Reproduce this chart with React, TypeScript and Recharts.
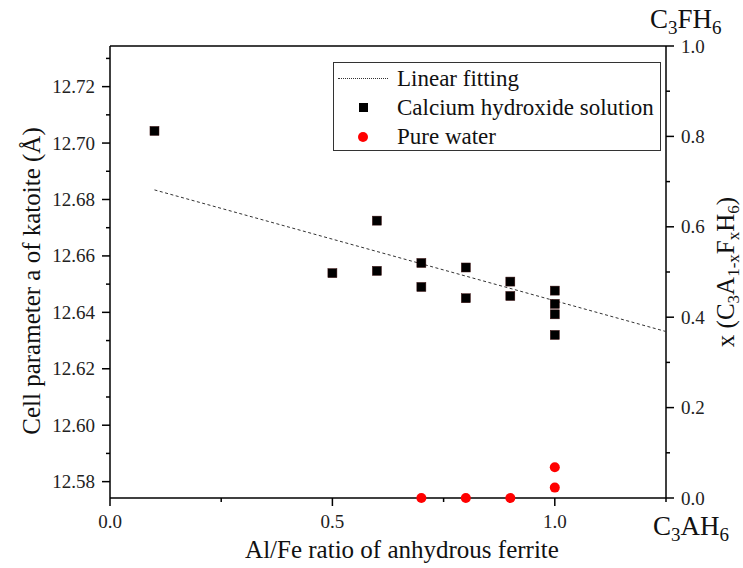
import { ComposedChart, Legend, Scatter, XAxis, YAxis } from "recharts";

const SERIF = "'Liberation Serif', 'Times New Roman', serif";

// Al/Fe ratio vs cell parameter (Ca(OH)2 solution)
const ratioCa = [0.1, 0.5, 0.6, 0.6, 0.7, 0.7, 0.8, 0.8, 0.9, 0.9, 1.0, 1.0, 1.0, 1.0];
const cellCa = [12.7043, 12.6539, 12.6725, 12.6547, 12.6575, 12.649, 12.6559, 12.645, 12.6509, 12.6458, 12.6477, 12.643, 12.6393, 12.632];

// Al/Fe ratio vs x (pure water), right axis
const ratioWater = [0.7, 0.8, 0.9, 1.0, 1.0];
const xWater = [0, 0, 0, 0.068, 0.023];

// linear fit end points
const fitRatio = [0.1, 1.25];
const fitCell = [12.6834, 12.6332];

const xTicks = [0, 0.25, 0.5, 0.75, 1.0, 1.25];
const xLabeled = [0, 0.5, 1.0];
const leftTicks = [12.58, 12.59, 12.6, 12.61, 12.62, 12.63, 12.64, 12.65, 12.66, 12.67, 12.68, 12.69, 12.7, 12.71, 12.72, 12.73];
const leftLabeled = [12.58, 12.6, 12.62, 12.64, 12.66, 12.68, 12.7, 12.72];
const rightTicks = [0, 0.1, 0.2, 0.3, 0.4, 0.5, 0.6, 0.7, 0.8, 0.9, 1.0];
const rightLabeled = [0, 0.2, 0.4, 0.6, 0.8, 1.0];

const legendOrder = ["Linear fitting", "Calcium hydroxide solution", "Pure water"];

const caData = ratioCa.map((r, i) => ({ r, v: cellCa[i] }));
const waterData = ratioWater.map((r, i) => ({ r, v: xWater[i] }));
const fitData = fitRatio.map((r, i) => ({ r, v: fitCell[i] }));

const AXIS = { stroke: "#000", strokeWidth: 1.5 };
const TICK_FS = 19;

function Species({ x, y, mid }: { x: number; y: number; mid: string }) {
  return (
    <text x={x} y={y} fontSize={27} fontFamily={SERIF} fill="#111">
      <tspan>C</tspan>
      <tspan dy={6} fontSize={19}>3</tspan>
      <tspan dy={-6}>{mid}</tspan>
      <tspan dy={6} fontSize={19}>6</tspan>
    </text>
  );
}

function BottomTick({ x, y, payload }: any) {
  const v = payload.value;
  const major = xLabeled.includes(v);
  return (
    <g>
      <line x1={x} x2={x} y1={y} y2={y + (major ? 8 : 4)} {...AXIS} />
      {major && (
        <text x={x} y={y + 30} textAnchor="middle" fontSize={TICK_FS} fontFamily={SERIF} fill="#222">
          {v.toFixed(1)}
        </text>
      )}
      {v === 1.25 && <Species x={x - 13} y={y + 37} mid="AH" />}
    </g>
  );
}

function TopTick({ x, y, payload }: any) {
  const major = xLabeled.includes(payload.value);
  return <line x1={x} x2={x} y1={y} y2={y + (major ? 8 : 4)} {...AXIS} />;
}

function LeftTick({ x, y, payload }: any) {
  const v = payload.value;
  const major = leftLabeled.includes(v);
  return (
    <g>
      <line x1={x - (major ? 8 : 4)} x2={x} y1={y} y2={y} {...AXIS} />
      {major && (
        <text x={x - 15} y={y + 6.5} textAnchor="end" fontSize={TICK_FS} fontFamily={SERIF} fill="#222">
          {v.toFixed(2)}
        </text>
      )}
    </g>
  );
}

function RightTick({ x, y, payload }: any) {
  const v = payload.value;
  const major = rightLabeled.includes(v);
  return (
    <g>
      <line x1={x} x2={x + (major ? 8 : 4)} y1={y} y2={y} {...AXIS} />
      {major && (
        <text x={x + 15} y={y + 6.5} textAnchor="start" fontSize={TICK_FS} fontFamily={SERIF} fill="#222">
          {v.toFixed(1)}
        </text>
      )}
      {v === 1.0 && <Species x={x - 16} y={y - 18} mid="FH" />}
    </g>
  );
}

function BottomTitle({ viewBox }: any) {
  const cx = viewBox.x + viewBox.width / 2 + 14;
  return (
    <text x={cx} y={viewBox.y + 60} textAnchor="middle" fontSize={25} fontFamily={SERIF} fill="#111">
      Al/Fe ratio of anhydrous ferrite
    </text>
  );
}

function LeftTitle({ viewBox }: any) {
  const bx = viewBox.x - 10;
  const cy = viewBox.y + viewBox.height / 2 + 9;
  return (
    <text x={bx} y={cy} transform={`rotate(-90, ${bx}, ${cy})`} textAnchor="middle" fontSize={25} fontFamily={SERIF} fill="#111">
      Cell parameter a of katoite (Å)
    </text>
  );
}

function RightTitle({ viewBox }: any) {
  const bx = viewBox.x + 68;
  const cy = viewBox.y + viewBox.height / 2;
  return (
    <text x={bx} y={cy} transform={`rotate(-90, ${bx}, ${cy})`} textAnchor="middle" fontSize={25} fontFamily={SERIF} fill="#111">
      <tspan>x (C</tspan>
      <tspan dy={5} fontSize={17}>3</tspan>
      <tspan dy={-5}>A</tspan>
      <tspan dy={5} fontSize={17}>1-x</tspan>
      <tspan dy={-5}>F</tspan>
      <tspan dy={5} fontSize={17}>x</tspan>
      <tspan dy={-5}>H</tspan>
      <tspan dy={5} fontSize={17}>6</tspan>
      <tspan dy={-5}>)</tspan>
    </text>
  );
}

const Square = ({ cx, cy }: any) => <rect x={cx - 4.5} y={cy - 4.5} width={9} height={9} fill="#000" stroke="#3a0d0d" strokeWidth={0.5} />;
const Dot = ({ cx, cy }: any) => <circle cx={cx} cy={cy} r={5} fill="#ff0000" />;
const NoMark = () => <g />;

function LegendBox({ payload }: any) {
  const items = [...(payload ?? [])].sort((a: any, b: any) => legendOrder.indexOf(a.value) - legendOrder.indexOf(b.value));
  return (
    <div
      style={{
        border: "1px solid #333",
        boxSizing: "border-box",
        width: 328,
        height: 89,
        paddingTop: 1,
        fontFamily: SERIF,
        fontSize: 23,
        color: "#111",
        background: "#fff",
      }}
    >
      {items.map((e: any) => (
        <div key={e.value} style={{ display: "flex", alignItems: "center", height: 29, lineHeight: "29px" }}>
          <div style={{ width: 58, display: "flex", justifyContent: "center", alignItems: "center" }}>
            {e.type === "plainline" && <div style={{ width: 50, borderTop: "1px dotted #333" }} />}
            {e.type === "square" && <div style={{ width: 9, height: 9, background: "#000" }} />}
            {e.type === "circle" && <div style={{ width: 10, height: 10, borderRadius: 5, background: "#ff0000" }} />}
          </div>
          <span style={{ marginLeft: 5, whiteSpace: "nowrap" }}>{e.value}</span>
        </div>
      ))}
    </div>
  );
}

export default function App() {
  return (
    <div style={{ position: "absolute", left: 0, top: 0, width: 743, height: 568, background: "#fff" }}>
      <ComposedChart width={743} height={568} margin={{ top: 36, right: 17, bottom: 30, left: 50 }}>
        <XAxis
          xAxisId="b"
          type="number"
          dataKey="r"
          domain={[0, 1.25]}
          ticks={xTicks}
          interval={0}
          height={40}
          axisLine={AXIS}
          tickLine={false}
          tickSize={0}
          tickMargin={0}
          tick={BottomTick}
          label={BottomTitle}
        />
        <XAxis
          xAxisId="t"
          orientation="top"
          type="number"
          dataKey="r"
          domain={[0, 1.25]}
          ticks={xTicks}
          interval={0}
          height={10}
          axisLine={AXIS}
          tickLine={false}
          tickSize={0}
          tickMargin={0}
          tick={TopTick}
        />
        <YAxis
          yAxisId="l"
          type="number"
          dataKey="v"
          domain={[12.5742, 12.7344]}
          ticks={leftTicks}
          interval={0}
          width={60}
          axisLine={AXIS}
          tickLine={false}
          tickSize={0}
          tickMargin={0}
          tick={LeftTick}
          label={LeftTitle}
        />
        <YAxis
          yAxisId="r"
          orientation="right"
          type="number"
          dataKey="v"
          domain={[0, 1]}
          ticks={rightTicks}
          interval={0}
          width={60}
          axisLine={AXIS}
          tickLine={false}
          tickSize={0}
          tickMargin={0}
          tick={RightTick}
          label={RightTitle}
        />
        <Legend
          layout="vertical"
          align="center"
          verticalAlign="middle"
          content={LegendBox}
          wrapperStyle={{ left: 333, top: 62, width: 328, height: 89 }}
        />
        <Scatter
          name="Linear fitting"
          data={fitData}
          xAxisId="b"
          yAxisId="l"
          legendType="plainline"
          line={{ stroke: "#333", strokeWidth: 1, strokeDasharray: "3 2.5" }}
          lineType="joint"
          shape={NoMark}
          isAnimationActive={false}
        />
        <Scatter
          name="Calcium hydroxide solution"
          data={caData}
          xAxisId="b"
          yAxisId="l"
          legendType="square"
          shape={Square}
          isAnimationActive={false}
        />
        <Scatter
          name="Pure water"
          data={waterData}
          xAxisId="b"
          yAxisId="r"
          legendType="circle"
          shape={Dot}
          isAnimationActive={false}
        />
      </ComposedChart>
    </div>
  );
}
